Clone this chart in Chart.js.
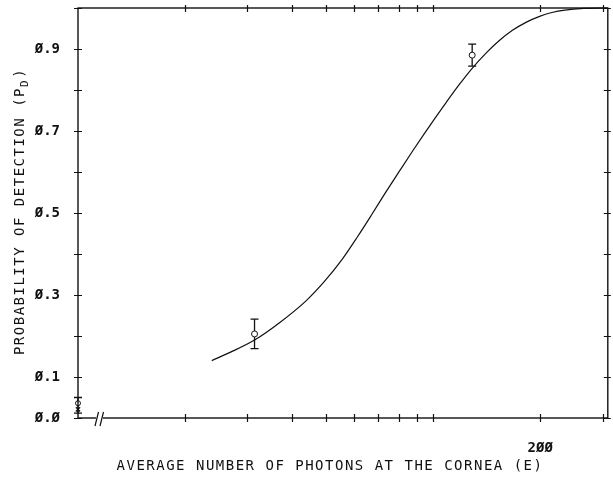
<!DOCTYPE html>
<html>
<head>
<meta charset="utf-8">
<script src="https://cdn.jsdelivr.net/npm/chart.js@4.4.0/dist/chart.umd.min.js"></script>
<style>
  html, body { margin: 0; padding: 0; background: #fff; }
  #wrap { width: 613px; height: 478px; }
</style>
</head>
<body>
<div id="wrap"><canvas id="fos"></canvas></div>
<script>
// fitted frequency-of-seeing curve
var curveE = [23.8, 26.8, 31.4, 37.0, 44.0, 49.4, 55.2, 61.2, 67.0, 73.3, 80.3, 87.3, 94.3,
              101.3, 108.8, 118.3, 128.7, 140.8, 153.2, 166.7, 182.4, 198.4, 215.8, 234.7, 265.3, 310];
var curveP = [0.14, 0.16, 0.19, 0.233, 0.287, 0.333, 0.385, 0.442, 0.495, 0.549, 0.602, 0.65, 0.693,
              0.732, 0.77, 0.813, 0.853, 0.89, 0.92, 0.945, 0.965, 0.979, 0.989, 0.995, 0.999, 1.0];

// measured points with their error bars
var pointE = [31.4, 128.7];
var pointP = [0.205, 0.885];
var pointLow = [0.169, 0.858];
var pointHigh = [0.241, 0.912];

// blank trials, sitting on the broken end of the axis
var blankE = [10];
var blankP = [0.036];
var blankCross = [0.021];
var blankLow = [0.012];
var blankHigh = [0.05];

var xTicks = [20, 30, 40, 50, 60, 70, 80, 90, 100, 200, 300];
var xLabels = { 200: '2ØØ' };
var yTicks = [0, 0.1, 0.2, 0.3, 0.4, 0.5, 0.6, 0.7, 0.8, 0.9, 1.0];
var yLabels = { '0': 'Ø.Ø', '0.1': 'Ø.1', '0.3': 'Ø.3', '0.5': 'Ø.5', '0.7': 'Ø.7', '0.9': 'Ø.9' };

var ink = '#111';

function pairs(xs, ys) {
    return xs.map(function (x, i) { return { x: x, y: ys[i] }; });
}

// error bars go under the markers
var errorBars = {
    id: 'errorBars',
    beforeDatasetsDraw: function (chart) {
        var ctx = chart.ctx;
        var xs = chart.scales.x, ys = chart.scales.y;
        var sets = [[pointE, pointLow, pointHigh], [blankE, blankLow, blankHigh]];
        ctx.save();
        ctx.strokeStyle = ink;
        ctx.lineWidth = 1.3;
        sets.forEach(function (s) {
            s[0].forEach(function (e, i) {
                var px = xs.getPixelForValue(e);
                var lo = ys.getPixelForValue(s[1][i]);
                var hi = ys.getPixelForValue(s[2][i]);
                ctx.beginPath();
                ctx.moveTo(px, lo); ctx.lineTo(px, hi);
                ctx.moveTo(px - 4, lo); ctx.lineTo(px + 4, lo);
                ctx.moveTo(px - 4, hi); ctx.lineTo(px + 4, hi);
                ctx.stroke();
            });
        });
        ctx.restore();
    }
};

// box, inside/outside tick crosses, axis break and the two axis titles
var frame = {
    id: 'frame',
    afterDraw: function (chart) {
        var ctx = chart.ctx;
        var a = chart.chartArea;
        var xs = chart.scales.x, ys = chart.scales.y;
        ctx.save();
        ctx.strokeStyle = ink;
        ctx.lineWidth = 1.4;
        ctx.strokeRect(a.left, a.top, a.right - a.left, a.bottom - a.top);

        ctx.lineWidth = 1.2;
        ctx.beginPath();
        xTicks.forEach(function (v) {
            var px = Math.round(xs.getPixelForValue(v)) + 0.5;
            ctx.moveTo(px, a.bottom - 4); ctx.lineTo(px, a.bottom + 4);
            ctx.moveTo(px, a.top - 3); ctx.lineTo(px, a.top + 4);
        });
        yTicks.forEach(function (v) {
            var py = Math.round(ys.getPixelForValue(v)) + 0.5;
            ctx.moveTo(a.left - 4, py); ctx.lineTo(a.left + 4, py);
            ctx.moveTo(a.right - 4, py); ctx.lineTo(a.right + 3, py);
        });
        ctx.stroke();

        // break in the bottom axis
        ctx.fillStyle = '#fff';
        ctx.fillRect(96, a.bottom - 3, 7, 6);
        ctx.beginPath();
        ctx.moveTo(95, a.bottom + 8); ctx.lineTo(98.5, a.bottom - 6);
        ctx.moveTo(100, a.bottom + 8); ctx.lineTo(103.5, a.bottom - 6);
        ctx.stroke();

        // axis titles
        ctx.fillStyle = ink;
        ctx.font = '14px "DejaVu Sans Mono"';
        ctx.letterSpacing = '1.5px';
        ctx.textBaseline = 'middle';
        ctx.textAlign = 'center';
        ctx.fillText('AVERAGE NUMBER OF PHOTONS AT THE CORNEA (E)', 330, 466);

        ctx.translate(20, 212);
        ctx.rotate(-Math.PI / 2);
        ctx.textAlign = 'left';
        var main = 'PROBABILITY OF DETECTION (P';
        var w1 = ctx.measureText(main).width;
        ctx.font = '11px "DejaVu Sans Mono"';
        var w2 = ctx.measureText('D').width;
        ctx.font = '14px "DejaVu Sans Mono"';
        var w3 = ctx.measureText(')').width;
        var x0 = -(w1 + w2 + w3) / 2;
        ctx.fillText(main, x0, 0);
        ctx.font = '11px "DejaVu Sans Mono"';
        ctx.fillText('D', x0 + w1, 5);
        ctx.font = '14px "DejaVu Sans Mono"';
        ctx.fillText(')', x0 + w1 + w2 + 1, 0);
        ctx.restore();
    }
};

new Chart(document.getElementById('fos'), {
    type: 'scatter',
    data: {
        datasets: [
            {
                label: 'fit',
                data: pairs(curveE, curveP),
                showLine: true,
                cubicInterpolationMode: 'monotone',
                borderColor: ink,
                borderWidth: 1.2,
                pointRadius: 0,
                clip: false
            },
            {
                label: 'measured',
                data: pairs(pointE, pointP),
                pointStyle: 'circle',
                pointRadius: 3,
                backgroundColor: '#fff',
                borderColor: ink,
                borderWidth: 1,
                clip: false
            },
            {
                label: 'blank',
                data: pairs(blankE, blankP),
                pointStyle: 'circle',
                pointRadius: 2.5,
                backgroundColor: '#fff',
                borderColor: ink,
                borderWidth: 1,
                clip: false
            },
            {
                label: 'blank x',
                data: pairs(blankE, blankCross),
                pointStyle: 'crossRot',
                pointRadius: 3,
                borderColor: ink,
                borderWidth: 1.2,
                clip: false
            }
        ]
    },
    options: {
        responsive: true,
        maintainAspectRatio: false,
        animation: false,
        layout: { padding: { left: 0, right: 4, top: 8, bottom: 0 } },
        plugins: {
            legend: { display: false },
            tooltip: { enabled: false }
        },
        scales: {
            x: {
                type: 'logarithmic',
                min: 10,
                max: 310,
                grid: { display: false },
                border: { display: false },
                afterBuildTicks: function (scale) {
                    scale.ticks = xTicks.map(function (v) { return { value: v }; });
                },
                afterFit: function (scale) {
                    scale.height = 60;
                    scale.paddingLeft = 0;
                    scale.paddingRight = 0;
                },
                ticks: {
                    autoSkip: false,
                    maxRotation: 0,
                    padding: 14,
                    color: ink,
                    font: { family: 'DejaVu Sans Mono', size: 14, weight: 'bold' },
                    callback: function (value) { return xLabels[value] || ''; }
                }
            },
            y: {
                min: 0,
                max: 1,
                grid: { display: false },
                border: { display: false },
                afterBuildTicks: function (scale) {
                    scale.ticks = yTicks.map(function (v) { return { value: v }; });
                },
                afterFit: function (scale) {
                    scale.width = 78;
                    scale.paddingTop = 0;
                    scale.paddingBottom = 0;
                },
                ticks: {
                    autoSkip: false,
                    padding: 10,
                    color: ink,
                    font: { family: 'DejaVu Sans Mono', size: 14, weight: 'bold' },
                    callback: function (value) { return yLabels[String(Math.round(value * 10) / 10)] || ''; }
                }
            }
        }
    },
    plugins: [errorBars, frame]
});
</script>
</body>
</html>
